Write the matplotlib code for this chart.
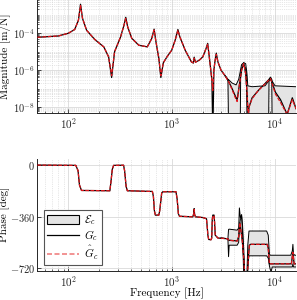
import numpy as np
import matplotlib
matplotlib.use("Agg")
import matplotlib.pyplot as plt
from matplotlib.ticker import FixedLocator, LogLocator, NullFormatter, LogFormatterMathtext
from matplotlib.patches import Patch
from matplotlib.lines import Line2D

plt.rcParams['font.family'] = 'serif'
plt.rcParams['font.serif'] = ['cmr10', 'DejaVu Serif']
plt.rcParams['mathtext.fontset'] = 'cm'
plt.rcParams['axes.unicode_minus'] = False
plt.rcParams['axes.formatter.use_mathtext'] = True

# ---------------- data ----------------
# magnitude of G_c and its estimate (log10 of m/N)
freq_mag = [50, 80, 100, 115, 125, 131, 137, 150, 180, 220, 245, 262, 280, 320, 345, 359, 375,
            410, 480, 580, 640, 676, 700, 750, 785, 830, 900, 1000, 1080, 1148, 1200, 1350,
            1550, 1620, 1650, 1700, 1850, 2000, 2150, 2230, 2330, 2450, 2500, 2560, 2620, 2700,
            2800, 3000, 3300, 3550, 3840, 4200, 4300, 4520, 4750, 4980, 5200, 5370, 5500, 5600,
            6000, 6900, 8090, 9040, 10100, 11300, 13100, 14700, 16000]
mag_G_log10 = [-4.22, -4.15, -4.0, -3.8, -3.3, -2.43, -3.2, -3.84, -4.34, -4.74, -5.28, -6.4, -5.0,
               -4.2, -3.57, -3.14, -3.66, -4.27, -4.65, -4.74, -4.29, -3.78, -4.38, -5.35, -6.4,
               -5.6, -5.28, -4.92, -4.38, -3.8, -4.2, -4.92, -5.55, -5.62, -5.3, -5.57, -5.46,
               -5.28, -4.83, -4.55, -5.46, -6.54, -9.5, -6.0, -5.55, -5.08, -5.55, -6.0, -6.32,
               -6.6, -7.0, -7.5, -7.6, -6.8, -6.0, -5.6, -6.2, -7.3, -8.6, -8.0, -7.5, -7.1,
               -6.7, -6.42, -7.2, -7.6, -8.4, -7.5, -8.1]
mag_Ghat_log10 = [-4.22, -4.15, -4.0, -3.8, -3.3, -2.5, -3.2, -3.84, -4.34, -4.74, -5.28, -6.3, -5.0,
                  -4.2, -3.57, -3.2, -3.66, -4.27, -4.65, -4.74, -4.29, -3.82, -4.38, -5.35, -6.3,
                  -5.6, -5.28, -4.92, -4.38, -3.85, -4.2, -4.92, -5.55, -5.6, -5.35, -5.57, -5.46,
                  -5.28, -4.83, -4.6, -5.46, -6.54, -7.1, -6.0, -5.55, -5.15, -5.55, -6.0, -6.32,
                  -6.62, -7.05, -7.6, -7.7, -6.8, -6.0, -5.65, -6.2, -7.3, -8.6, -8.0, -7.55, -7.1,
                  -6.72, -6.45, -7.3, -7.75, -8.4, -7.6, -8.1]

# uncertainty band E_c on the magnitude (log10 of m/N)
freq_band_mag = [3300, 3500, 3560, 3840, 4200, 4450, 4600, 4650, 4750, 4980, 5200, 5300, 5370,
                 5450, 6000, 8000, 8650, 8750, 9040, 9300, 9400, 10000, 16000]
band_mag_upper_log10 = [-6.32, -6.5, -6.52, -6.7, -6.8, -6.5, -6.1, -5.95, -5.7, -5.6, -5.65, -6.0,
                        -6.3, -6.85, -6.9, -6.85, -6.6, -6.5, -6.38, -6.5, -6.6, -6.85, -6.9]
band_mag_lower_log10 = [-6.32, -6.5, -9.5, -9.5, -9.5, -9.5, -9.5, -6.3, -5.9, -5.75, -5.9, -6.3,
                        -9.5, -9.5, -9.5, -9.5, -9.5, -6.6, -6.5, -6.6, -9.5, -9.5, -9.5]

# phase of G_c and its estimate (deg)
freq_ph = [50, 118, 124, 128, 134, 252, 258, 266, 274, 342, 350, 362, 372, 650, 665, 680, 695, 750,
           765, 785, 800, 820, 1100, 1130, 1160, 1190, 1600, 1635, 1650, 1665, 1700, 2000, 2170,
           2200, 2240, 2280, 2400, 2440, 2470, 2500, 2570, 2600, 2640, 2800, 3500, 3550, 4300,
           4450, 4570, 4700, 4820, 4990, 5100, 5400, 5530, 5650, 5800, 8400, 8600, 8830, 14400,
           14900, 15300, 16000]
phase_G = [-1, -3, -40, -140, -178, -180, -120, -30, -3, -2, -40, -150, -180, -185, -220, -320,
           -350, -350, -320, -250, -195, -187, -187, -240, -340, -358, -362, -340, -305, -345,
           -362, -367, -375, -420, -490, -520, -522, -510, -380, -350, -350, -400, -490, -510,
           -515, -525, -530, -500, -404, -470, -530, -658, -780, -780, -640, -560, -554, -554,
           -580, -690, -690, -610, -690, -690]
phase_Ghat = [-1, -3, -40, -140, -178, -180, -120, -30, -3, -2, -40, -150, -180, -185, -220, -320,
              -350, -350, -320, -250, -195, -187, -187, -240, -340, -358, -362, -340, -310, -345,
              -362, -367, -375, -420, -490, -520, -522, -510, -385, -355, -355, -400, -490, -510,
              -515, -525, -532, -500, -404, -470, -530, -658, -780, -780, -640, -560, -554, -554,
              -580, -690, -690, -610, -690, -690]

# uncertainty band E_c on the phase (deg)
freq_band_ph = [3000, 3500, 3550, 3600, 4300, 4450, 4520, 4620, 4750, 4850, 4990, 5110, 5330, 5450,
                5600, 8300, 8600, 8830, 9000, 9200, 9400, 14200, 14700, 14900, 15100, 15500, 16000]
band_ph_upper = [-510, -515, -450, -448, -455, -440, -300, -370, -346, -420, -600, -800, -800, -560,
                 -461, -461, -490, -623, -630, -630, -630, -630, -600, -554, -620, -630, -630]
band_ph_lower = [-510, -515, -640, -560, -560, -540, -430, -380, -360, -480, -800, -800, -800, -700,
                 -634, -634, -650, -704, -730, -740, -712, -712, -712, -690, -712, -712, -712]

labels = [r'$\mathcal{E}_c$', r'$G_c$', r'$\hat{G}_c$']
xticks = [1e2, 1e3, 1e4]
mag_yticks = [1e-8, 1e-6, 1e-4]
phase_yticks = [-720, -360, 0]

# ---------------- figure ----------------
W, H = 297, 300
fig = plt.figure(figsize=(W / 100, H / 100), dpi=100)
left_px, width_px = 37.3, 258.8
left = left_px / W
width = width_px / W
ax1 = fig.add_axes([left, (H - 113.3) / H, width, 113.3 / H])
ax2 = fig.add_axes([left, (H - 271.0) / H, width, (271.0 - 158.5) / H])

red = '#e0151b'
band_face = '#e4e4e4'
lw_black = 0.9

def to_lin(v):
    return [10.0 ** x for x in v]

# magnitude
ax1.fill_between(freq_band_mag, to_lin(band_mag_lower_log10), to_lin(band_mag_upper_log10),
                 facecolor=band_face, edgecolor='none', zorder=1)
ax1.plot(freq_band_mag, to_lin(band_mag_upper_log10), color='k', lw=0.7, zorder=2)
ax1.plot(freq_band_mag, to_lin(band_mag_lower_log10), color='k', lw=0.7, zorder=2)
ax1.plot(freq_mag, to_lin(mag_G_log10), color='k', lw=lw_black, zorder=3)
ax1.plot(freq_mag, to_lin(mag_Ghat_log10), color=red, lw=0.9, dashes=(3, 1.2), zorder=4)

# phase
ax2.fill_between(freq_band_ph, band_ph_lower, band_ph_upper,
                 facecolor=band_face, edgecolor='none', zorder=1)
ax2.plot(freq_band_ph, band_ph_upper, color='k', lw=0.7, zorder=2)
ax2.plot(freq_band_ph, band_ph_lower, color='k', lw=0.7, zorder=2)
ax2.plot(freq_ph, phase_G, color='k', lw=lw_black, zorder=3)
ax2.plot(freq_ph, phase_Ghat, color=red, lw=0.9, dashes=(3, 1.2), zorder=4)

for ax in (ax1, ax2):
    ax.set_xscale('log')
    ax.set_xlim(50, 16000)
    ax.xaxis.set_major_locator(FixedLocator(xticks))
    ax.xaxis.set_major_formatter(LogFormatterMathtext())
    ax.xaxis.set_minor_locator(LogLocator(base=10, subs=np.arange(2, 10)))
    ax.xaxis.set_minor_formatter(NullFormatter())
    ax.spines['top'].set_visible(False)
    ax.spines['right'].set_visible(False)
    for s in ('left', 'bottom'):
        ax.spines[s].set_color('#262626')
        ax.spines[s].set_linewidth(0.7)
    ax.tick_params(which='both', direction='in', colors='#262626', labelsize=8, pad=2)
    ax.tick_params(axis='y', which='both', labelsize=7.5, pad=1.5)
    ax.tick_params(which='major', length=3, width=0.6)
    ax.tick_params(which='minor', length=1.5, width=0.5)
    ax.grid(True, which='major', color='#d9d9d9', lw=0.6, ls='-')
    ax.grid(True, which='minor', color='#d0d0d0', lw=0.5, ls=':')
    ax.set_axisbelow(True)

ax1.set_yscale('log')
ax1.set_ylim(10 ** -8.34, 10 ** -2.2)
ax1.yaxis.set_major_locator(FixedLocator(mag_yticks))
ax1.yaxis.set_major_formatter(LogFormatterMathtext())
ax1.yaxis.set_minor_locator(LogLocator(base=10, subs=np.arange(1, 10), numticks=30))
ax1.yaxis.set_minor_formatter(NullFormatter())
ax1.set_ylabel('Magnitude [m/N]', fontsize=8)
ax1.yaxis.set_label_coords((11.0 - left_px) / width_px, 0.5)

ax2.set_ylim(-740, 45)
ax2.yaxis.set_major_locator(FixedLocator(phase_yticks))
ax2.set_ylabel('Phase [deg]', fontsize=8)
ax2.yaxis.set_label_coords((10.0 - left_px) / width_px, 0.5)
ax2.set_xlabel('Frequency [Hz]', fontsize=8)
ax2.xaxis.set_label_coords(0.5, -(287.5 - 271.0) / 112.5)

handles = [Patch(facecolor=band_face, edgecolor='k', linewidth=0.8),
           Line2D([], [], color='k', lw=0.9),
           Line2D([], [], color='#f08080', lw=1.2, dashes=(3, 1.5))]
leg = ax2.legend(handles, labels, loc='lower left', bbox_to_anchor=(0.025, 0.05),
                 fontsize=8, handlelength=2.9, handleheight=0.9, labelspacing=0.1,
                 borderpad=0.3, handletextpad=0.4, borderaxespad=0.0,
                 fancybox=False, framealpha=1.0, edgecolor='#555555')
leg.get_frame().set_linewidth(0.8)

fig.savefig('out.png', dpi=100)
